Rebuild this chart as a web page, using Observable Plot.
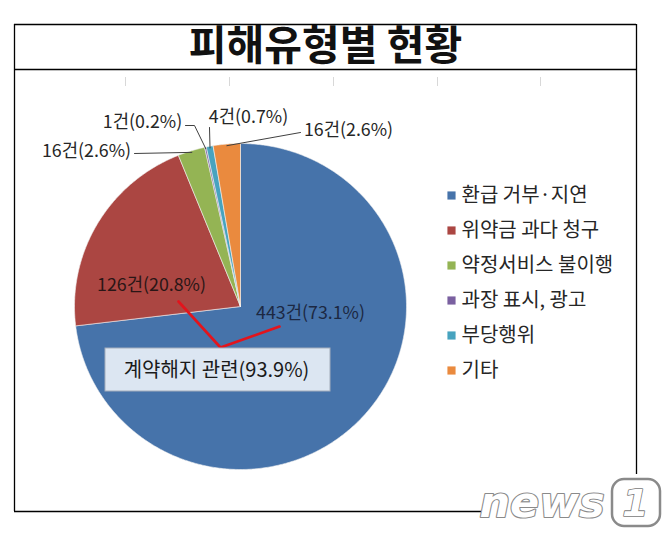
<!DOCTYPE html>
<html>
<head>
<meta charset="utf-8">
<script src="https://cdn.jsdelivr.net/npm/d3@7"></script>
<script src="https://cdn.jsdelivr.net/npm/@observablehq/plot@0.6"></script>
<style>
  html, body { margin: 0; padding: 0; background: #fff; }
  svg { display: block; }
</style>
</head>
<body>
<div id="chart"></div>
<script>
// ---- data ----
const title = "피해유형별 현황";
const categories = ["환급 거부·지연", "위약금 과다 청구", "약정서비스 불이행", "과장 표시, 광고", "부당행위", "기타"];
const counts = [443, 126, 16, 1, 4, 16];
const percents = [73.1, 20.8, 2.6, 0.2, 0.7, 2.6];
const groupLabel = "계약해지 관련(93.9%)";
const colors = ["#4673aa", "#ab4642", "#94b454", "#7a60a0", "#47a3bf", "#ea8a3e"];

// ---- layout (positions only) ----
const W = 672, H = 541;
const cx = 240, cy = 306, rx = 166, ry = 163;
const font = "'Noto Sans CJK KR', 'Noto Sans', sans-serif";
const labelLayout = [
  {x: 310, y: 313, anchor: "middle", fill: "#1c2842", leader: null},
  {x: 151, y: 285, anchor: "middle", fill: "#2a1616", leader: null},
  {x: 86, y: 151, anchor: "middle", fill: "#262626", leader: [[134, 153]]},
  {x: 142, y: 122, anchor: "middle", fill: "#262626", leader: [[185, 125], [194, 125]]},
  {x: 248, y: 117, anchor: "middle", fill: "#262626", leader: [[209, 127]]},
  {x: 348, y: 130, anchor: "middle", fill: "#262626", leader: [[300, 132]]}
];

// ---- geometry from data ----
const total = d3.sum(counts);
let acc = 0;
const slices = categories.map((c, i) => {
  const a0 = acc / total * 2 * Math.PI;
  acc += counts[i];
  const a1 = acc / total * 2 * Math.PI;
  return {cat: c, i, a0, a1, mid: (a0 + a1) / 2};
});
const pt = (a, k = 1) => [cx + rx * k * Math.sin(a), cy - ry * k * Math.cos(a)];
const polys = [];
for (const s of slices) {
  polys.push({cat: s.cat, x: cx, y: cy});
  const n = Math.max(2, Math.ceil((s.a1 - s.a0) / (Math.PI / 360)));
  for (let k = 0; k <= n; k++) {
    const [x, y] = pt(s.a0 + (s.a1 - s.a0) * k / n);
    polys.push({cat: s.cat, x, y});
  }
  polys.push({cat: s.cat, x: cx, y: cy});
}
const labels = slices.map((s, i) => ({
  text: `${counts[i]}건(${percents[i].toFixed(1)}%)`,
  ...labelLayout[i]
}));
const leaders = [];
slices.forEach((s, i) => {
  const L = labelLayout[i].leader;
  if (!L) return;
  L.forEach(([x, y]) => leaders.push({id: i, x, y}));
  const [ex, ey] = pt(s.mid, 0.99);
  leaders.push({id: i, x: ex, y: ey});
});
const connector = [
  {x: 178, y: 301}, {x: 220, y: 347}, {x: 279, y: 326}
];
const legendRows = categories.map((c, i) => ({cat: c, y: 195 + i * 35}));

const chart = Plot.plot({
  width: W, height: H,
  margin: 0,
  x: {domain: [0, W], range: [0, W], axis: null},
  y: {domain: [0, H], range: [0, H], axis: null},
  color: {domain: categories, range: colors},
  marks: [
    // frame
    Plot.ruleY([24, 69], {x1: 14, x2: 636, stroke: "#000", strokeWidth: 1.3}),
    Plot.ruleY([511], {x1: 14, x2: 481, stroke: "#000", strokeWidth: 1.3}),
    Plot.ruleX([14], {y1: 24, y2: 511, stroke: "#000", strokeWidth: 1.3}),
    Plot.ruleX([636], {y1: 24, y2: 474, stroke: "#000", strokeWidth: 1.3}),
    Plot.ruleX([125, 229, 333, 437, 540], {y1: 77, y2: 86, stroke: "#d8d8d8", strokeWidth: 1}),
    // title
    Plot.text([title], {x: 325, y: 46, text: d => d, fontSize: 41, fontWeight: 700, fill: "#111", fontFamily: font}),
    // pie slices
    Plot.line(polys, {x: "x", y: "y", z: "cat", fill: "cat", stroke: "#f2f2f2", strokeWidth: 0.6, curve: "linear"}),
    // leader lines
    Plot.line(leaders, {x: "x", y: "y", z: "id", stroke: "#404040", strokeWidth: 1}),
    // slice labels
    Plot.text(labels, {x: "x", y: "y", text: "text", fill: "fill", textAnchor: "anchor", fontSize: 17.8, fontFamily: font}),
    // callout
    Plot.line(connector, {x: "x", y: "y", stroke: "#e3141c", strokeWidth: 2.6}),
    Plot.rect([groupLabel], {x1: 105, x2: 330, y1: 348, y2: 391, fill: "#dce6f2", stroke: "#a3adbb", strokeWidth: 1}),
    Plot.text([groupLabel], {x: 216, y: 370, text: d => d, fontSize: 20, fill: "#1a1a1a", fontFamily: font}),
    // legend
    Plot.dot(legendRows, {x: 451, y: "y", fill: "cat", symbol: "square", r: 4.6}),
    Plot.text(legendRows, {x: 461, y: "y", text: "cat", textAnchor: "start", fontSize: 20, fill: "#262626", fontFamily: font}),
    // watermark
    Plot.text(["news"], {x: 479, y: 503, text: d => d, textAnchor: "start", fontSize: 43, fontWeight: 900, fontStyle: "italic", fill: "#fff", stroke: "#8a8a8a", strokeWidth: 2.2, fontFamily: "'DejaVu Sans', sans-serif"}),
    Plot.rect(["1"], {x1: 612, x2: 660, y1: 479, y2: 526, rx: 12, fill: "#fff", stroke: "#8a8a8a", strokeWidth: 2.5}),
    Plot.text(["1"], {x: 635, y: 503, text: d => d, fontSize: 38, fontWeight: 900, fontStyle: "italic", fill: "#fff", stroke: "#7a7a7a", strokeWidth: 1.6, fontFamily: "'DejaVu Sans', sans-serif"})
  ]
});
document.getElementById("chart").appendChild(chart);
</script>
</body>
</html>
